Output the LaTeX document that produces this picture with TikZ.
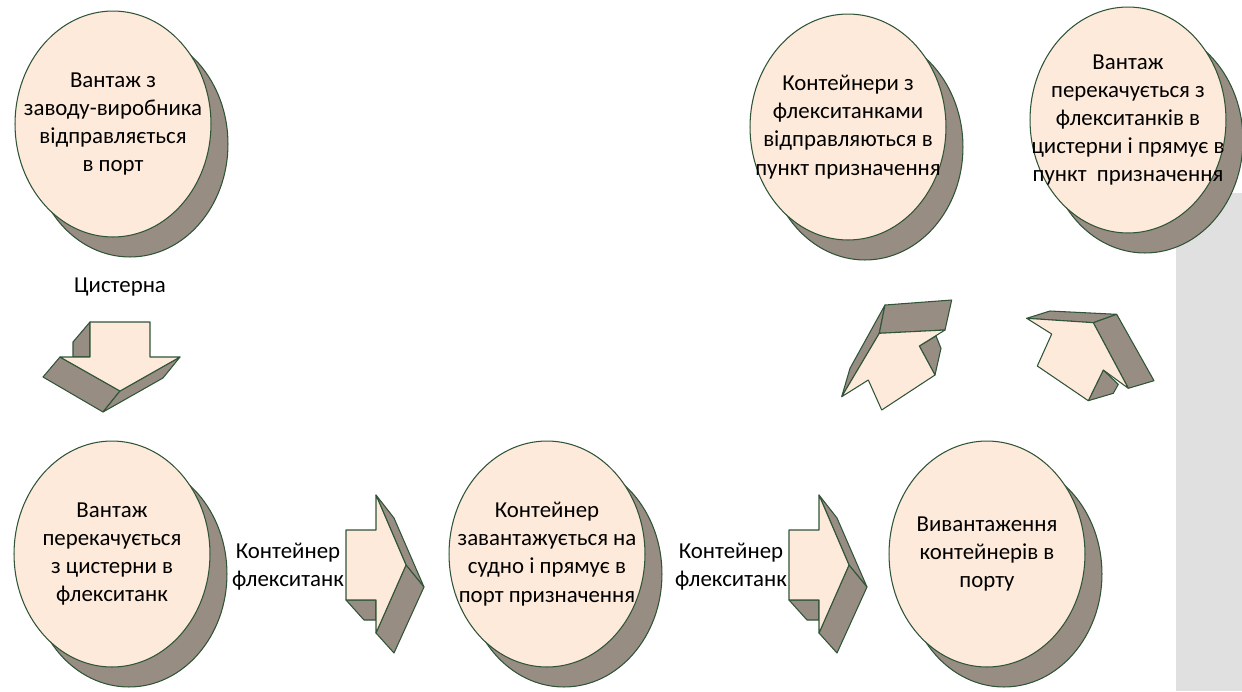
\documentclass[tikz,border=0pt]{standalone}
\usepackage{fontspec}
\setmainfont{Carlito}
\usetikzlibrary{shapes.geometric}

\definecolor{peach}{RGB}{253,234,218}
\definecolor{taupe}{RGB}{151,141,131}
\definecolor{rim}{RGB}{47,84,56}
\definecolor{panel}{RGB}{224,224,224}

\begin{document}
\begin{tikzpicture}[x=0.02cm, y=-0.02cm, line width=0.6pt,
   font=\fontsize{13}{16}\selectfont,
   stage/.style={ellipse, draw=rim, fill=peach, minimum width=3.92cm,
      minimum height=4.52cm, inner sep=-1cm, align=center,
      preaction={draw=rim, fill=taupe, transform canvas={shift={(0.34cm,-0.4cm)}}}},
   front/.style={draw=rim, fill=peach, line join=round},
   side/.style={draw=rim, fill=taupe, line join=round},
   note/.style={align=center}]

   \useasboundingbox (0,0) rectangle (1242,691);
   \fill[panel] (1176,193) rectangle (1242,691);

   % stages
   \node[stage] (src) at (113,124) {Вантаж з\\заводу-виробника\\відправляється\\в порт};
   \node[stage] (pump) at (112,554) {Вантаж\\перекачується\\з цистерни в\\флекситанк};
   \node[stage] (ship) at (547,554) {Контейнер\\завантажується на\\судно і прямує в\\порт призначення};
   \node[stage] (unload) at (987,554) {Вивантаження\\контейнерів в\\порту};
   \node[stage] (send) at (848,127) {Контейнери з\\флекситанками\\відправляються в\\пункт призначення};
   \node[stage] (dest) at (1128,120) {Вантаж\\перекачується з\\флекситанків в\\цистерни і прямує в\\пункт\ \ призначення};

   % labels
   \node[note] (tank) at (120,287) {Цистерна};
   \node[note] (box1) at (288,567) {Контейнер\\флекситанк};
   \node[note] (box2) at (731,567) {Контейнер\\флекситанк};

   % down arrow
   \draw[side] (90,322) -- (73,342) -- (73,357) -- (90,357) -- cycle;
   \draw[side] (60,357) -- (43,377) -- (103,412) -- (120,391) -- cycle;
   \draw[side] (120,391) -- (103,412) -- (163,378) -- (180,357) -- cycle;
   \draw[front] (90,322) -- (150,322) -- (150,357) -- (180,357) -- (120,391)
      -- (60,357) -- (90,357) -- cycle;

   % right arrows
   \foreach \dx in {0,443} {
      \begin{scope}[xshift=\dx*0.02cm]
         \draw[side] (376,495) -- (394,518) -- (424,587) -- (406,565) -- cycle;
         \draw[side] (406,565) -- (424,587) -- (394,653) -- (376,633) -- cycle;
         \draw[side] (346,600) -- (364,620) -- (376,620) -- (376,600) -- cycle;
         \draw[front] (346,530) -- (376,530) -- (376,495) -- (406,565)
            -- (376,633) -- (376,600) -- (346,600) -- cycle;
      \end{scope}
   }

   % up arrows
   \draw[side] (841.7,396.7) -- (879.3,333.3) -- (885,305) -- (850,368.3) -- cycle;
   \draw[side] (879.3,333.3) -- (945,330) -- (951.7,300) -- (885,305) -- cycle;
   \draw[side] (919.3,346) -- (936,336) -- (941,348.3) -- (935,375) -- cycle;
   \draw[front] (841.7,396.7) -- (879.3,333.3) -- (945,330) -- (919.3,346)
      -- (935,375) -- (881.7,410) -- (868.3,380) -- cycle;

   \draw[side] (1026.7,318.3) -- (1050,311) -- (1116.7,314.3) -- (1093.3,322.7) -- cycle;
   \draw[side] (1093.3,322.7) -- (1116.7,314.3) -- (1154,380.7) -- (1128.3,388.3) -- cycle;
   \draw[side] (1103.3,370) -- (1118.3,384.3) -- (1113.3,393.3) -- (1088.3,400.7) -- cycle;
   \draw[front] (1026.7,318.3) -- (1051.7,334) -- (1037.3,366) -- (1088.3,400.7)
      -- (1103.3,370) -- (1128.3,388.3) -- (1093.3,322.7) -- cycle;
\end{tikzpicture}
\end{document}
